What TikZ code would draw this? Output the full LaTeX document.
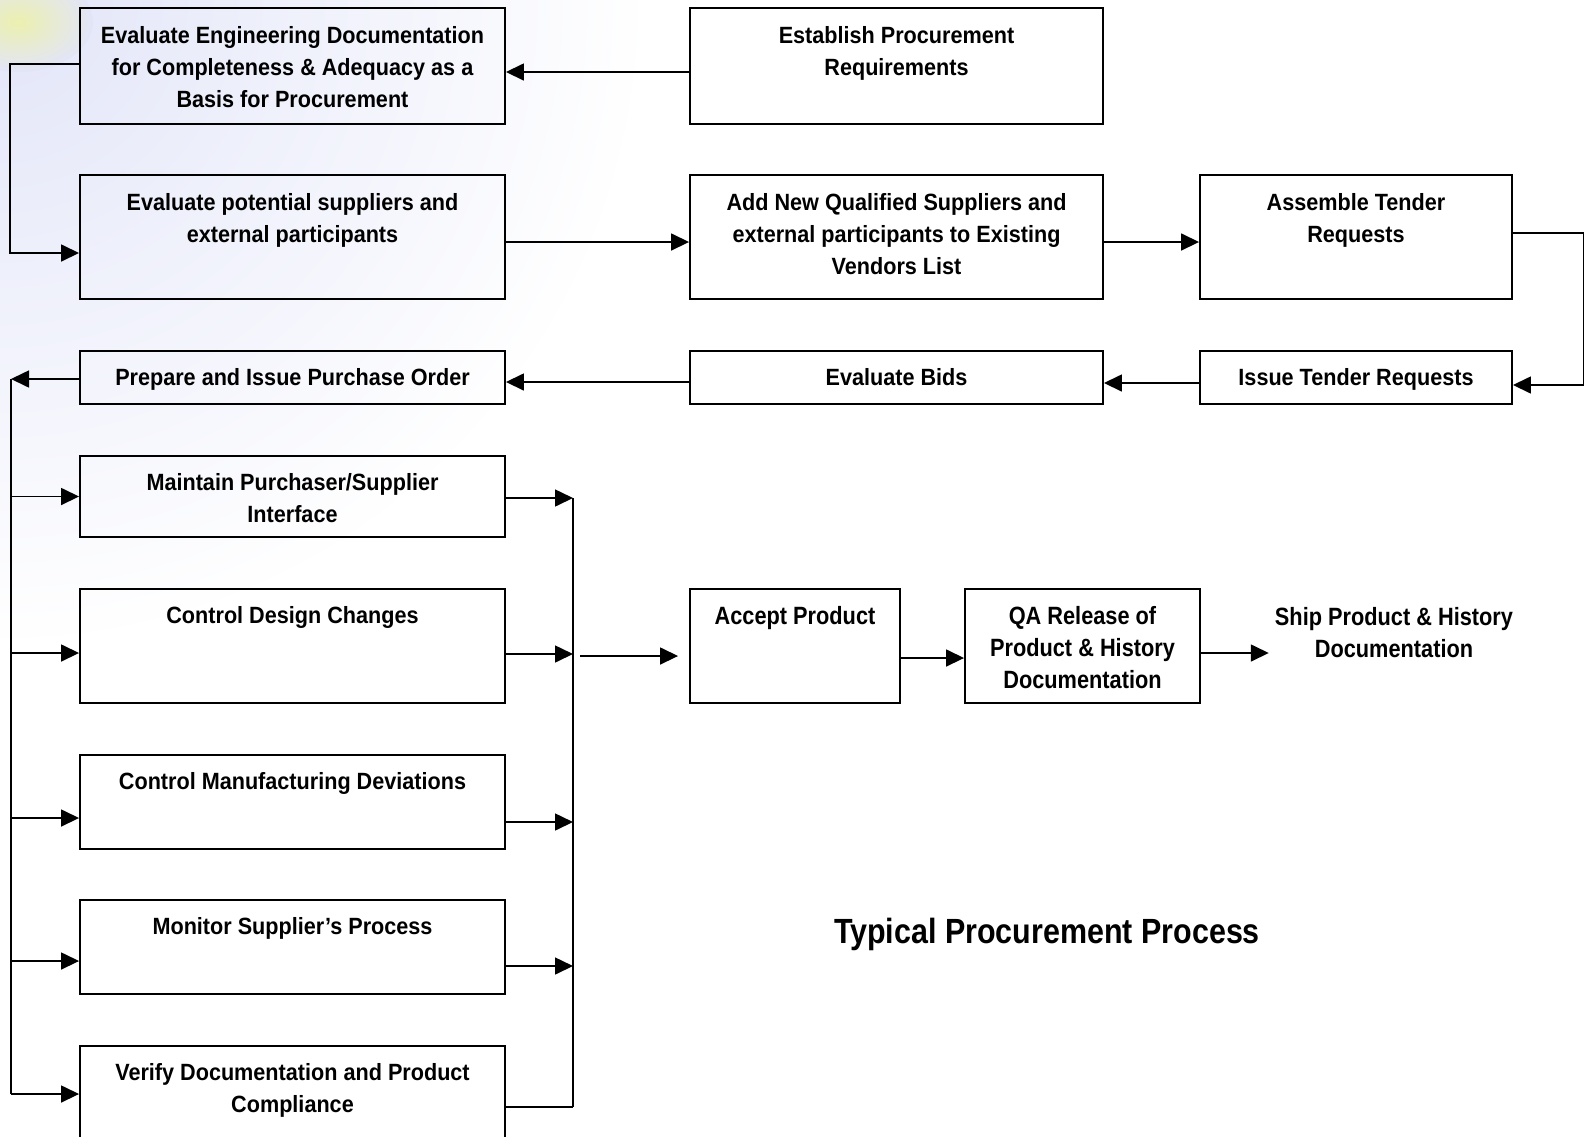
\documentclass[tikz,border=0pt]{standalone}
\usepackage{fontspec}
\setmainfont{Liberation Sans}
\newfontfamily\boxfont{Liberation Sans}[FakeStretch=0.92]
\newfontfamily\narrowfont{Liberation Sans}[FakeStretch=0.87]
\usetikzlibrary{arrows.meta,positioning}
\definecolor{bgblue}{RGB}{226,229,248}
\definecolor{bgyellow}{RGB}{236,240,175}
\tikzset{
  >=Triangle,
  box/.style={rectangle, draw, line width=1.9pt, inner sep=0pt},
  txt/.style={align=center, inner sep=0pt, font=\boxfont\fontsize{23.5}{32}\selectfont\bfseries},
  ntxt/.style={align=center, inner sep=0pt, font=\narrowfont\fontsize{25}{32}\selectfont\bfseries},
  arr/.style={-{Triangle[length=18pt,width=17pt]}, line width=1.6pt},
  ln/.style={line width=1.6pt}
}

\begin{document}
\begin{tikzpicture}[x=1pt, y=-1pt]
    % canvas and background
    \clip (0,0) rectangle (1584,1136);
    \fill[white] (0,0) rectangle (1584,1136);
    \shade[inner color=bgblue, outer color=white] (0,0) circle (650);
    \shade[inner color=bgyellow, outer color=bgblue] (18,22) ellipse (75 and 50);

    % top row
    \node[box, minimum width=425pt, minimum height=116pt] (evaleng) at (292.5,66) {};
    \node[txt, below=19pt of evaleng.north] (evalengtxt) {Evaluate Engineering Documentation\\for Completeness \& Adequacy as a\\Basis for Procurement};
    \node[box, minimum width=413pt, minimum height=116pt] (estab) at (896.5,66) {};
    \node[txt, below=19pt of estab.north] (estabtxt) {Establish Procurement\\Requirements};

    % second row
    \node[box, minimum width=425pt, minimum height=124pt] (evalsup) at (292.5,237) {};
    \node[txt, below=19pt of evalsup.north] (evalsuptxt) {Evaluate potential suppliers and\\external participants};
    \node[box, minimum width=413pt, minimum height=124pt] (addnew) at (896.5,237) {};
    \node[txt, below=19pt of addnew.north] (addnewtxt) {Add New Qualified Suppliers and\\external participants to Existing\\Vendors List};
    \node[box, minimum width=312pt, minimum height=124pt] (assemble) at (1356,237) {};
    \node[txt, below=19pt of assemble.north] (assembletxt) {Assemble Tender\\Requests};

    % third row
    \node[box, minimum width=425pt, minimum height=53pt] (prepare) at (292.5,377.5) {};
    \node[txt, below=18pt of prepare.north] (preparetxt) {Prepare and Issue Purchase Order};
    \node[box, minimum width=413pt, minimum height=53pt] (bids) at (896.5,377.5) {};
    \node[txt, below=18pt of bids.north] (bidstxt) {Evaluate Bids};
    \node[box, minimum width=312pt, minimum height=53pt] (issue) at (1356,377.5) {};
    \node[txt, below=18pt of issue.north] (issuetxt) {Issue Tender Requests};

    % control column
    \node[box, minimum width=425pt, minimum height=81pt] (maintain) at (292.5,496.5) {};
    \node[txt, below=18pt of maintain.north] (maintaintxt) {Maintain Purchaser/Supplier\\Interface};
    \node[box, minimum width=425pt, minimum height=114pt] (design) at (292.5,646) {};
    \node[txt, below=18pt of design.north] (designtxt) {Control Design Changes};
    \node[box, minimum width=425pt, minimum height=94pt] (manuf) at (292.5,802) {};
    \node[txt, below=18pt of manuf.north] (manuftxt) {Control Manufacturing Deviations};
    \node[box, minimum width=425pt, minimum height=94pt] (monitor) at (292.5,947) {};
    \node[txt, below=18pt of monitor.north] (monitortxt) {Monitor Supplier’s Process};
    \node[box, minimum width=425pt, minimum height=104pt] (verify) at (292.5,1098) {};
    \node[txt, below=18pt of verify.north] (verifytxt) {Verify Documentation and Product\\Compliance};

    % release chain
    \node[box, minimum width=210pt, minimum height=114pt] (accept) at (795,646) {};
    \node[ntxt, below=18pt of accept.north] (accepttxt) {Accept Product};
    \node[box, minimum width=235pt, minimum height=114pt] (qarel) at (1082.5,646) {};
    \node[ntxt, below=18pt of qarel.north] (qareltxt) {QA Release of\\Product \& History\\Documentation};
    \node[ntxt, anchor=north] (ship) at (1394,607) {Ship Product \& History\\Documentation};

    \node[font=\narrowfont\fontsize{35}{40}\selectfont\bfseries, inner sep=0pt] (ttl) at (1047,934) {Typical Procurement Process};

    % bus coordinates
    \coordinate (lbus) at (11,379);
    \coordinate (lbusend) at (11,1094);
    \coordinate (rbus) at (573,498);
    \coordinate (rbusend) at (573,1107);
    \coordinate (rbusout) at (580,656);

    % connectors
    \draw[arr] ([yshift=-6pt]estab.west) -- ([yshift=-6pt]evaleng.east);
    \draw[arr] ([yshift=2pt]evaleng.west) -- ++(-69,0) |- ([yshift=-16pt]evalsup.west);
    \draw[arr] ([yshift=-5pt]evalsup.east) -- ([yshift=-5pt]addnew.west);
    \draw[arr] ([yshift=-5pt]addnew.east) -- ([yshift=-5pt]assemble.west);
    \draw[arr] ([yshift=4pt]assemble.east) -- ++(71,0) |- ([yshift=-7.5pt]issue.east);
    \draw[arr] ([yshift=-5.5pt]issue.west) -- ([yshift=-5.5pt]bids.east);
    \draw[arr] ([yshift=-4.5pt]bids.west) -- ([yshift=-4.5pt]prepare.east);
    \draw[arr] ([yshift=-1.5pt]prepare.west) -- (lbus);
    \draw[ln] (lbus) -- (lbusend);

    \draw[arr] (maintain.west -| lbus) -- (maintain.west);
    \draw[arr] ([yshift=-7pt]design.west -| lbus) -- ([yshift=-7pt]design.west);
    \draw[arr] ([yshift=-16pt]manuf.west -| lbus) -- ([yshift=-16pt]manuf.west);
    \draw[arr] ([yshift=-14pt]monitor.west -| lbus) -- ([yshift=-14pt]monitor.west);
    \draw[arr] (lbusend) -- (lbusend -| verify.west);

    \draw[arr] ([yshift=-1.5pt]maintain.east) -- ([yshift=-1.5pt]maintain.east -| rbus);
    \draw[arr] ([yshift=-8pt]design.east) -- ([yshift=-8pt]design.east -| rbus);
    \draw[arr] ([yshift=-20pt]manuf.east) -- ([yshift=-20pt]manuf.east -| rbus);
    \draw[arr] ([yshift=-19pt]monitor.east) -- ([yshift=-19pt]monitor.east -| rbus);
    \draw[ln] (rbusend -| verify.east) -- (rbusend);
    \draw[ln] (rbus) -- (rbusend);

    \draw[arr] (rbusout) -- ([xshift=-11pt,yshift=-10pt]accept.west);
    \draw[arr] ([yshift=-12pt]accept.east) -- ([yshift=-12pt]qarel.west);
    \draw[arr] ([yshift=-7pt]qarel.east) -- ([xshift=-6pt,yshift=-7pt]qarel.east -| ship.west);
\end{tikzpicture}
\end{document}
